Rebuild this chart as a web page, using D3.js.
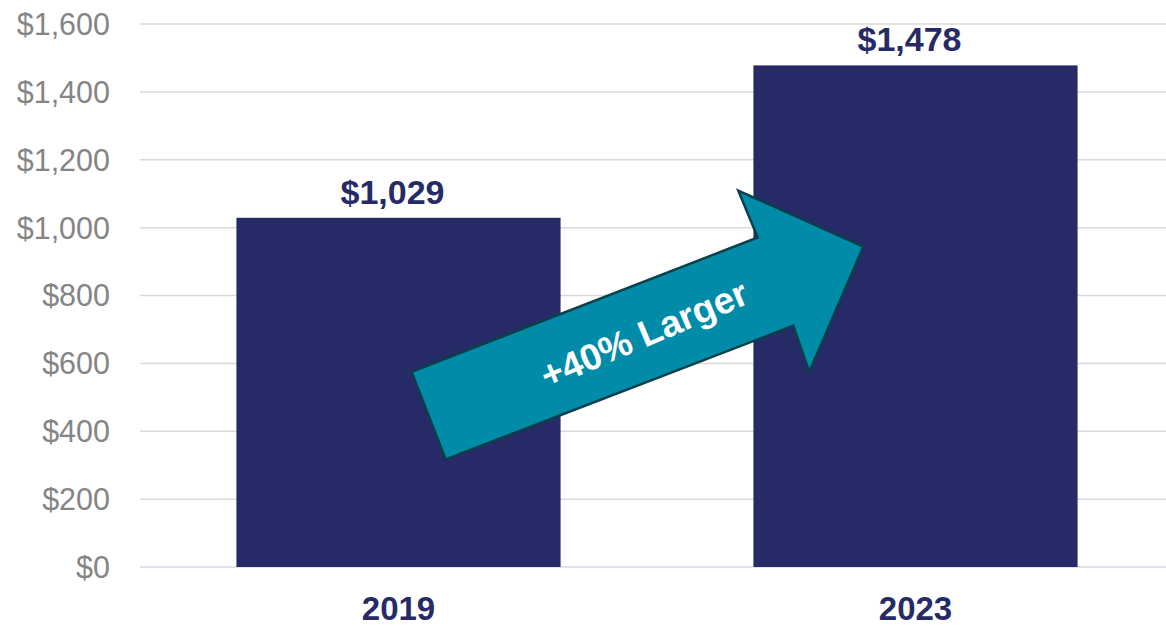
<!DOCTYPE html>
<html>
<head>
<meta charset="utf-8">
<script src="https://cdn.jsdelivr.net/npm/d3@7"></script>
<style>
  body { margin: 0; background: #fff; }
  svg { display: block; font-family: "Liberation Sans", Arial, sans-serif; }
</style>
</head>
<body>
<script>
// Chart data
const years = ["2019", "2023"];
const values = [1029, 1478];
const yTicks = [0, 200, 400, 600, 800, 1000, 1200, 1400, 1600];
const arrowLabel = "+40% Larger";

const width = 1166;
const height = 627;
const marginLeft = 140;
const marginTop = 24;
const baseY = 567;

const x = d3.scaleBand()
    .domain(years)
    .range([marginLeft, 1174])
    .paddingInner(0.373)
    .paddingOuter(0.1865);

const y = d3.scaleLinear()
    .domain([0, 1600])
    .range([baseY, marginTop]);

const fmt = d => "$" + d3.format(",")(d);

const svg = d3.select("body").append("svg")
    .attr("width", width)
    .attr("height", height);

// Gridlines
svg.append("g")
    .selectAll("line")
    .data(yTicks)
    .join("line")
    .attr("x1", marginLeft)
    .attr("x2", width)
    .attr("y1", d => y(d))
    .attr("y2", d => y(d))
    .attr("stroke", d => d === 0 ? "#d6d6ec" : "#d9d9d9")
    .attr("stroke-width", 1.5);

// Y axis labels
svg.append("g")
    .selectAll("text")
    .data(yTicks)
    .join("text")
    .attr("x", 110)
    .attr("y", d => y(d))
    .attr("dy", "0.36em")
    .attr("text-anchor", "end")
    .attr("fill", "#858585")
    .attr("font-size", 30.5)
    .text(fmt);

// Bars
const data = years.map((yr, i) => ({ year: yr, value: values[i] }));

svg.append("g")
    .selectAll("rect")
    .data(data)
    .join("rect")
    .attr("x", d => x(d.year))
    .attr("y", d => y(d.value))
    .attr("width", x.bandwidth())
    .attr("height", d => y(0) - y(d.value))
    .attr("fill", "#262a66");

// Value labels
svg.append("g")
    .selectAll("text")
    .data(data)
    .join("text")
    .attr("x", d => x(d.year) + x.bandwidth() / 2 - 6)
    .attr("y", d => y(d.value) - 14)
    .attr("text-anchor", "middle")
    .attr("fill", "#262a66")
    .attr("font-size", 34)
    .attr("font-weight", "bold")
    .text(d => fmt(d.value));

// Category labels
svg.append("g")
    .selectAll("text")
    .data(years)
    .join("text")
    .attr("x", d => x(d) + x.bandwidth() / 2)
    .attr("y", 620)
    .attr("text-anchor", "middle")
    .attr("fill", "#262a66")
    .attr("font-size", 33)
    .attr("font-weight", "bold")
    .text(d => d);

// Growth arrow annotation (x in px, y in data units)
const arrowPts = [
    [411.7, 575], [757.7, 971], [738.3, 1109], [863.3, 944],
    [809.3, 575], [793.3, 711], [445.7, 317]
];

svg.append("polygon")
    .attr("points", arrowPts.map(p => [p[0], y(p[1])].join(",")).join(" "))
    .attr("fill", "#008ca8")
    .attr("stroke", "#0b3f4a")
    .attr("stroke-width", 2.5)
    .attr("stroke-linejoin", "miter");

svg.append("text")
    .attr("transform", "translate(644,334) rotate(-23)")
    .attr("text-anchor", "middle")
    .attr("dy", "0.35em")
    .attr("fill", "#fff")
    .attr("font-size", 37)
    .attr("font-weight", "bold")
    .text(arrowLabel);
</script>
</body>
</html>
